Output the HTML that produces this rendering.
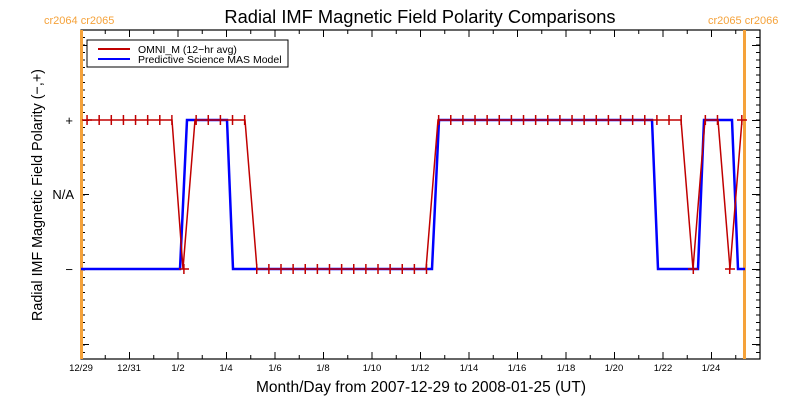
<!DOCTYPE html>
<html><head><meta charset="utf-8"><style>
html,body{margin:0;padding:0;background:#fff;}
svg{display:block;font-family:"Liberation Sans","DejaVu Sans",sans-serif;}
</style></head><body>
<svg width="800" height="400" viewBox="0 0 800 400" xmlns="http://www.w3.org/2000/svg">
<rect width="800" height="400" fill="#fff"/>
<text x="420" y="23" font-size="18.3" text-anchor="middle" fill="#000">Radial IMF Magnetic Field Polarity Comparisons</text>
<text x="44" y="24" font-size="11" fill="#f5a23a">cr2064 cr2065</text>
<text x="708" y="24" font-size="11" fill="#f5a23a">cr2065 cr2066</text>
<text x="421" y="392" font-size="15.5" text-anchor="middle" fill="#000">Month/Day from 2007-12-29 to 2008-01-25 (UT)</text>
<text transform="translate(42,195) rotate(-90)" font-size="14.3" text-anchor="middle" fill="#000">Radial IMF Magnetic Field Polarity (−,+)</text>
<g font-size="13" text-anchor="end" fill="#000">
<text x="73" y="125">+</text><text x="74" y="199">N/A</text><text x="73" y="274">−</text>
</g>
<g font-size="9.5" text-anchor="middle" fill="#000">
<text x="81" y="371">12/29</text><text x="129" y="371">12/31</text><text x="178" y="371">1/2</text><text x="226" y="371">1/4</text><text x="275" y="371">1/6</text><text x="323" y="371">1/8</text><text x="372" y="371">1/10</text><text x="420" y="371">1/12</text><text x="469" y="371">1/14</text><text x="517" y="371">1/16</text><text x="566" y="371">1/18</text><text x="614" y="371">1/20</text><text x="663" y="371">1/22</text><text x="711" y="371">1/24</text>
</g>
<g stroke="#000" fill="none">
<line x1="80.5" y1="357" x2="761" y2="357" stroke-width="4" stroke-dasharray="1 23.25"/>
<line x1="80.5" y1="32" x2="761" y2="32" stroke-width="4" stroke-dasharray="1 23.25"/>
<line x1="83" y1="29.5" x2="83" y2="359" stroke-width="4" stroke-dasharray="1 6.5"/>
<line x1="758" y1="29.5" x2="758" y2="359" stroke-width="4" stroke-dasharray="1 6.5"/>
<line x1="80.5" y1="355.5" x2="761" y2="355.5" stroke-width="7" stroke-dasharray="1 47.5"/>
<line x1="80.5" y1="33.5" x2="761" y2="33.5" stroke-width="7" stroke-dasharray="1 47.5"/>
<path stroke-width="1" d="M81 45.5h8M81 120.5h8M81 194.5h8M81 269.5h8M81 344.5h8M760 45.5h-8M760 120.5h-8M760 194.5h-8M760 269.5h-8M760 344.5h-8"/>
</g>
<rect x="81" y="30" width="679" height="329" fill="none" stroke="#000" stroke-width="1.2"/>
<line x1="81.5" y1="30" x2="81.5" y2="359" stroke="#f5a23a" stroke-width="3"/>
<line x1="744.5" y1="30" x2="744.5" y2="359" stroke="#f5a23a" stroke-width="3"/>
<polyline fill="none" stroke="#0000ff" stroke-width="2.5" points="81,269 180,269 187,120 227,120 233,269 432,269 439,120 652,120 658,269 698,269 704,120 732,120 738,269 745,269"/>
<polyline fill="none" stroke="#c00000" stroke-width="1.5" points="87,120 172,120 183,269 195,120 245,120 257,269 426,269 438,120 681,120 693,269 705,120 718,120 730,269 742,120"/>
<g stroke="#c00000" fill="none">
<g stroke-width="10" stroke-dasharray="1.5 10.625">
<line x1="86.3" y1="120" x2="172.6" y2="120"/>
<line x1="195.4" y1="120" x2="245.5" y2="120"/>
<line x1="437.9" y1="120" x2="682" y2="120"/>
<line x1="704.6" y1="120" x2="718.4" y2="120"/>
<line x1="256" y1="269" x2="427.4" y2="269"/>
</g>
<path stroke-width="1.5" d="M741.8 115v10M183.9 264v10M693.3 264v10M729.7 264v10M179 269h10M688 269h10M725 269h10M737 120h10M82 120h10"/>
</g>
<rect x="87" y="40" width="201" height="27" fill="#fff" stroke="#000" stroke-width="1"/>
<line x1="98" y1="49" x2="130" y2="49" stroke="#c00000" stroke-width="2"/>
<line x1="98" y1="59" x2="130" y2="59" stroke="#0000ff" stroke-width="2"/>
<text x="138" y="53" font-size="10.5" fill="#000">OMNI_M (12−hr avg)</text>
<text x="138" y="63" font-size="10.5" fill="#000">Predictive Science MAS Model</text>
</svg>
</body></html>
